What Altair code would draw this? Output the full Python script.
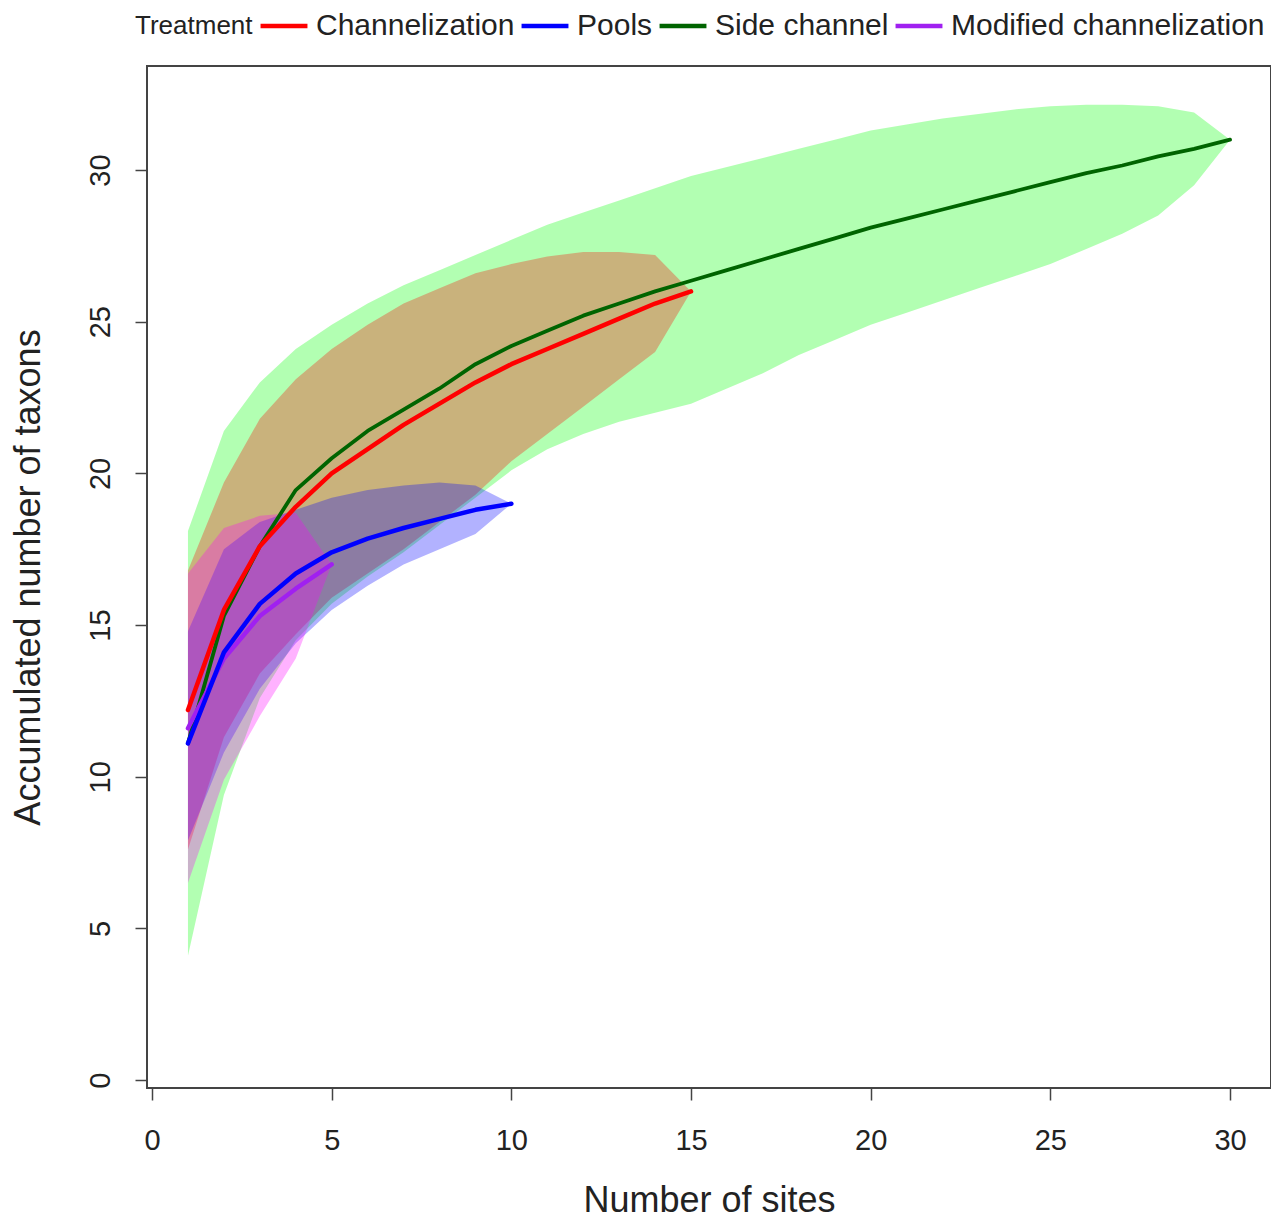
import altair as alt
import pandas as pd

# ---- data ----
treatments = ["Channelization", "Pools", "Side channel", "Modified channelization"]
line_colors = ["#ff0000", "#0000ff", "#006400", "#a020f0"]
band_colors = {"Channelization": "#ff0000", "Pools": "#0000ff",
               "Side channel": "#00ff00", "Modified channelization": "#ff00ff"}

chan_sites = list(range(1, 16))
chan_mean = [12.2, 15.5, 17.6, 18.9, 20.0, 20.8, 21.6, 22.3, 23.0, 23.6, 24.1, 24.6, 25.1, 25.6, 26.0]
chan_upper = [16.8, 19.7, 21.8, 23.1, 24.1, 24.9, 25.6, 26.1, 26.6, 26.9, 27.15, 27.3, 27.3, 27.2, 26.0]
chan_lower = [7.6, 11.3, 13.4, 14.7, 15.9, 16.7, 17.5, 18.4, 19.3, 20.4, 21.3, 22.2, 23.1, 24.0, 26.0]

pools_sites = list(range(1, 11))
pools_mean = [11.1, 14.1, 15.7, 16.7, 17.4, 17.85, 18.2, 18.5, 18.8, 19.0]
pools_upper = [14.8, 17.5, 18.4, 18.8, 19.2, 19.45, 19.6, 19.7, 19.6, 19.0]
pools_lower = [7.9, 10.8, 12.9, 14.4, 15.5, 16.3, 17.0, 17.5, 18.0, 19.0]

side_sites = list(range(1, 31))
side_mean = [11.1, 15.3, 17.6, 19.45, 20.5, 21.4, 22.1, 22.8, 23.6, 24.2,
             24.7, 25.2, 25.6, 26.0, 26.35, 26.7, 27.05, 27.4, 27.75, 28.1,
             28.4, 28.7, 29.0, 29.3, 29.6, 29.9, 30.15, 30.45, 30.7, 31.0]
side_upper = [18.1, 21.4, 23.0, 24.1, 24.9, 25.6, 26.2, 26.7, 27.2, 27.7,
              28.2, 28.6, 29.0, 29.4, 29.8, 30.1, 30.4, 30.7, 31.0, 31.3,
              31.5, 31.7, 31.85, 32.0, 32.1, 32.15, 32.15, 32.1, 31.9, 31.0]
side_lower = [4.1, 9.4, 12.6, 14.5, 15.7, 16.6, 17.4, 18.3, 19.2, 20.1,
              20.8, 21.3, 21.7, 22.0, 22.3, 22.8, 23.3, 23.9, 24.4, 24.9,
              25.3, 25.7, 26.1, 26.5, 26.9, 27.4, 27.9, 28.5, 29.5, 31.0]

mod_sites = list(range(1, 6))
mod_mean = [11.6, 13.9, 15.3, 16.2, 17.0]
mod_upper = [16.7, 18.2, 18.6, 18.7, 17.0]
mod_lower = [6.5, 9.9, 12.0, 13.9, 17.0]

x_ticks = [0, 5, 10, 15, 20, 25, 30]
y_ticks = [0, 5, 10, 15, 20, 25, 30]

# ---- table ----
rows = []
for name, s, m, u, l in [
    ("Channelization", chan_sites, chan_mean, chan_upper, chan_lower),
    ("Pools", pools_sites, pools_mean, pools_upper, pools_lower),
    ("Side channel", side_sites, side_mean, side_upper, side_lower),
    ("Modified channelization", mod_sites, mod_mean, mod_upper, mod_lower),
]:
    for a, b, c, d in zip(s, m, u, l):
        rows.append({"Treatment": name, "sites": a, "mean": b, "upper": c, "lower": d})
df = pd.DataFrame(rows)

FONT = "Liberation Sans"

xscale = alt.Scale(domain=[-0.14, 31.14], nice=False, zero=False)
yscale = alt.Scale(domain=[-0.26, 33.43], nice=False, zero=False)

xaxis = alt.Axis(values=x_ticks, title="Number of sites", grid=False, domain=False,
                 tickSize=12, tickColor="#444", tickWidth=1.5,
                 labelFontSize=29, labelFont=FONT, labelColor="#222", labelPadding=26,
                 titleFontSize=36, titleFont=FONT, titleFontWeight="normal",
                 titleColor="#222", titlePadding=28)
yaxis = alt.Axis(values=y_ticks, title="Accumulated number of taxons", grid=False, domain=False,
                 tickSize=12, tickColor="#444", tickWidth=1.5,
                 labelFontSize=29, labelFont=FONT, labelColor="#222", labelAngle=270,
                 labelAlign="center", labelBaseline="bottom", labelPadding=20,
                 titleFontSize=36, titleFont=FONT, titleFontWeight="normal",
                 titleColor="#222", titlePadding=39)

base = alt.Chart(df)

def band(name):
    return base.transform_filter(alt.datum.Treatment == name).mark_area(
        color=band_colors[name], opacity=0.3, interpolate="linear"
    ).encode(
        x=alt.X("sites:Q", scale=xscale, axis=xaxis),
        y=alt.Y("lower:Q", scale=yscale, axis=yaxis),
        y2="upper:Q",
    )

color_enc = alt.Color(
    "Treatment:N",
    scale=alt.Scale(domain=treatments, range=line_colors),
    legend=alt.Legend(
        orient="none", legendX=-12, legendY=-66, direction="horizontal",
        title="Treatment", titleOrient="left", titleFontSize=26, titleFont=FONT,
        titleFontWeight="normal", titleColor="#222", titlePadding=5,
        titleAnchor="middle", titleBaseline="line-top", titleLineHeight=10,
        labelFontSize=30, labelFont=FONT, labelColor="#222", labelOffset=6,
        labelLimit=0, symbolType="stroke", symbolStrokeWidth=4.5, symbolSize=2200,
        columnPadding=-3, padding=0,
    ),
)

def line(name, width):
    return base.transform_filter(alt.datum.Treatment == name).mark_line(
        strokeWidth=width, interpolate="linear", strokeCap="round", strokeJoin="round"
    ).encode(
        x=alt.X("sites:Q", scale=xscale, axis=xaxis),
        y=alt.Y("mean:Q", scale=yscale, axis=yaxis),
        color=color_enc,
    )

chart = alt.layer(
    band("Side channel"),
    band("Channelization"),
    band("Pools"),
    band("Modified channelization"),
    line("Side channel", 3.8),
    line("Modified channelization", 4.5),
    line("Pools", 4.5),
    line("Channelization", 4.5),
).properties(
    width=1124, height=1022,
    autosize=alt.AutoSizeParams(type="none"),
    padding={"left": 139, "top": 58, "right": 0, "bottom": 124},
).configure(
    background="white",
    view=alt.ViewConfig(stroke="#444", strokeWidth=2),
)

chart.save("out.html", embed_options={"renderer": "svg", "actions": False})
